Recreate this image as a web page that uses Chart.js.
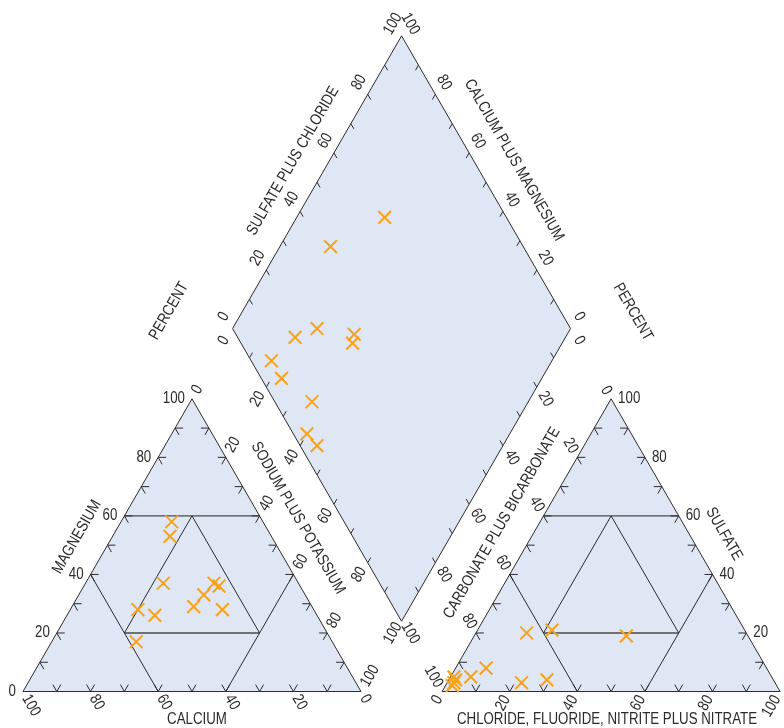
<!DOCTYPE html>
<html>
<head>
<meta charset="utf-8">
<script src="https://cdn.jsdelivr.net/npm/chart.js@4.4.1/dist/chart.umd.min.js"></script>
<style>
  html, body { margin: 0; padding: 0; background: #fff; }
  canvas { display: block; }
</style>
</head>
<body>
<canvas id="piper" width="784" height="728"></canvas>
<script>
// percent of milliequivalents per sample
const calcium         = [48, 27, 52, 58, 30, 25, 30, 40, 35, 24, 27];
const magnesium       = [26, 58, 28, 17, 33, 37, 53, 37, 29, 36, 28];
const sodiumPotassium = [26, 15, 20, 25, 37, 38, 17, 23, 36, 40, 45];
const bicarbonate     = [36, 57, 83, 75, 65, 67, 94, 94, 89, 96, 95];
const sulfate         = [19, 21,  8,  3, 20,  4,  5,  4,  5,  2,  3];
const chloride        = [45, 22,  9, 22, 15, 29,  1,  2,  6,  2,  2];

const tickLabels = [0, 20, 40, 60, 80, 100];

const H = Math.sqrt(3) / 2;
const GAP = 24;              // space between the two triangles
const RX = 100 + GAP;        // left corner of the anion triangle
const DB = { x: 100 + GAP / 2, y: GAP * H };   // bottom of diamond
const DL = { x: DB.x - 50, y: DB.y + 100 * H }; // left of diamond

function catXY(i) {
    return { x: sodiumPotassium[i] + magnesium[i] / 2, y: magnesium[i] * H };
}
function anXY(i) {
    return { x: RX + chloride[i] + sulfate[i] / 2, y: sulfate[i] * H };
}
function diaXY(i) {
    const a = sodiumPotassium[i] / 100;
    const b = (sulfate[i] + chloride[i]) / 100;
    return { x: DL.x + 50 * (a + b), y: DL.y + 100 * H * (b - a) };
}

const FILL = '#dfe7f4';
const INK = '#2b2b2b';
const ORANGE = '#f7a21b';
const FONT = '16px "Liberation Sans", Arial, sans-serif';
const SQX = 0.83; // horizontal squeeze to look like a condensed face

function lerp(a, b, t) { return { x: a.x + (b.x - a.x) * t, y: a.y + (b.y - a.y) * t }; }
function unit(a, b) {
    const dx = b.x - a.x, dy = b.y - a.y, l = Math.hypot(dx, dy);
    return { x: dx / l, y: dy / l };
}

function txt(ctx, s, x, y, rot, align) {
    ctx.save();
    ctx.translate(x, y);
    ctx.rotate(rot * Math.PI / 180);
    ctx.scale(SQX, 1);
    ctx.textAlign = align || 'center';
    ctx.textBaseline = 'middle';
    ctx.fillText(s, 0, 0);
    ctx.restore();
}
function tw(ctx, s) { return ctx.measureText(s).width * SQX; }

function seg(ctx, a, b) {
    ctx.beginPath();
    ctx.moveTo(a.x, a.y);
    ctx.lineTo(b.x, b.y);
    ctx.stroke();
}
function poly(ctx, pts, fill) {
    ctx.beginPath();
    pts.forEach((p, i) => i ? ctx.lineTo(p.x, p.y) : ctx.moveTo(p.x, p.y));
    ctx.closePath();
    if (fill) { ctx.fillStyle = fill; ctx.fill(); }
    ctx.stroke();
}

const piperFrame = {
    id: 'piperFrame',
    beforeDatasetsDraw(chart) {
        const ctx = chart.ctx;
        const xs = chart.scales.x, ys = chart.scales.y;
        const P = (u) => ({ x: xs.getPixelForValue(u.x), y: ys.getPixelForValue(u.y) });
        const tp = (ox, r, t) => P({ x: ox + r + t / 2, y: t * H });

        ctx.save();
        ctx.strokeStyle = INK;
        ctx.lineWidth = 1;
        ctx.lineJoin = 'miter';

        // two triangles
        [0, RX].forEach(ox => {
            const v = [tp(ox, 0, 0), tp(ox, 100, 0), tp(ox, 0, 100)];
            poly(ctx, v, FILL);
            ctx.strokeStyle = '#4a4a4a';
            ctx.lineWidth = 1.4;
            seg(ctx, tp(ox, 0, 60), tp(ox, 40, 60));
            seg(ctx, tp(ox, 20, 20), tp(ox, 60, 20));
            ctx.strokeStyle = INK;
            ctx.lineWidth = 1;
            seg(ctx, tp(ox, 0, 40), tp(ox, 40, 0));
            seg(ctx, tp(ox, 60, 40), tp(ox, 60, 0));
            seg(ctx, tp(ox, 20, 60), tp(ox, 20, 20));
            seg(ctx, tp(ox, 20, 60), tp(ox, 60, 20));
            // ticks
            [[0, 1, 2], [0, 2, 1], [1, 2, 0]].forEach(([i, j, k]) => {
                const d1 = unit(v[i], v[k]), d2 = unit(v[j], v[k]);
                for (let n = 1; n < 10; n++) {
                    const p = lerp(v[i], v[j], n / 10);
                    seg(ctx, p, { x: p.x + d1.x * 8, y: p.y + d1.y * 8 });
                    seg(ctx, p, { x: p.x + d2.x * 8, y: p.y + d2.y * 8 });
                }
            });
        });

        // diamond
        const L = P(DL), B = P(DB);
        const T = P({ x: DB.x, y: DB.y + 200 * H });
        const R = P({ x: DB.x + 50, y: DL.y });
        poly(ctx, [L, T, R, B], FILL);
        [[L, T, unit(L, B)], [R, T, unit(T, L)], [L, B, unit(L, T)], [R, B, unit(B, L)]].forEach(([a, b, d]) => {
            for (let n = 1; n < 10; n++) {
                const p = lerp(a, b, n / 10);
                seg(ctx, p, { x: p.x + d.x * 6, y: p.y + d.y * 6 });
            }
        });

        // tick labels
        ctx.fillStyle = INK;
        ctx.font = FONT;
        const c60 = { x: 0.5, y: H }, cm60 = { x: 0.5, y: -H };

        const A = tp(0, 0, 0), Bt = tp(0, 100, 0), C = tp(0, 0, 100);
        const D = tp(RX, 0, 0), E = tp(RX, 100, 0), F = tp(RX, 0, 100);
        tickLabels.forEach(v => {
            const s = String(v), w = tw(ctx, s), f = v / 100;
            // magnesium, left edge
            let p = lerp(A, C, f);
            txt(ctx, s, p.x - 7, p.y, 0, 'right');
            // calcium, base (100 at left)
            p = lerp(A, Bt, 1 - f);
            txt(ctx, s, p.x + c60.x * (5 + w / 2), p.y + c60.y * (5 + w / 2), 60);
            // sodium plus potassium, right edge
            p = lerp(C, Bt, f);
            txt(ctx, s, p.x + cm60.x * (7 + w / 2), p.y + cm60.y * (7 + w / 2), -60);
            // carbonate plus bicarbonate, left edge of anion triangle
            p = lerp(F, D, f);
            txt(ctx, s, p.x - c60.x * (6 + w / 2), p.y - c60.y * (6 + w / 2), 60);
            // chloride etc, base
            p = lerp(D, E, f);
            txt(ctx, s, p.x - cm60.x * (6 + w / 2), p.y - cm60.y * (6 + w / 2), -60);
            // sulfate, right edge
            p = lerp(E, F, f);
            txt(ctx, s, p.x + 7, p.y, 0, 'left');
        });

        // diamond labels
        const mid = lerp(L, R, 0.5);
        [[L, T, -60], [R, T, 60], [L, B, -60], [R, B, 60]].forEach(([a, b, rot]) => {
            const e = unit(a, b);
            let n = { x: e.y, y: -e.x };
            if ((a.x - mid.x) * n.x + (a.y - mid.y) * n.y < 0) n = { x: -n.x, y: -n.y };
            tickLabels.forEach(v => {
                const p = lerp(a, b, v / 100);
                txt(ctx, String(v), p.x + n.x * 13.5 + e.x * 6, p.y + n.y * 13.5 + e.y * 6, rot);
            });
        });

        // axis titles
        txt(ctx, 'SULFATE PLUS CHLORIDE', 293, 161, -60);
        txt(ctx, 'CALCIUM PLUS MAGNESIUM', 514, 160, 60);
        txt(ctx, 'PERCENT', 169, 311, -60);
        txt(ctx, 'PERCENT', 633, 312, 60);
        txt(ctx, 'MAGNESIUM', 77, 537, -60);
        txt(ctx, 'SODIUM PLUS POTASSIUM', 298, 518, 60);
        txt(ctx, 'CALCIUM', 197, 720, 0);
        txt(ctx, 'CARBONATE PLUS BICARBONATE', 502, 523, -60);
        txt(ctx, 'SULFATE', 724, 534, 60);
        txt(ctx, 'CHLORIDE, FLUORIDE, NITRITE PLUS NITRATE', 607, 720, 0);

        ctx.restore();
    }
};

const mark = {
    showLine: false,
    pointStyle: 'crossRot',
    pointRadius: 9,
    pointHoverRadius: 9,
    pointBorderWidth: 2,
    pointBorderColor: ORANGE,
    borderColor: ORANGE,
    backgroundColor: 'rgba(0,0,0,0)',
    clip: false
};

new Chart(document.getElementById('piper'), {
    type: 'scatter',
    data: {
        datasets: [
            { label: 'Cations', data: calcium.map((_, i) => catXY(i)), ...mark },
            { label: 'Anions', data: bicarbonate.map((_, i) => anXY(i)), ...mark },
            { label: 'Combined', data: calcium.map((_, i) => diaXY(i)), ...mark }
        ]
    },
    options: {
        responsive: false,
        animation: false,
        events: [],
        layout: { padding: 0, autoPadding: false },
        plugins: { legend: { display: false }, tooltip: { enabled: false } },
        scales: {
            x: { type: 'linear', min: -6.8, max: 225.15, display: false },
            y: { type: 'linear', min: -10.79, max: 204.59, display: false }
        }
    },
    plugins: [piperFrame]
});
</script>
</body>
</html>
